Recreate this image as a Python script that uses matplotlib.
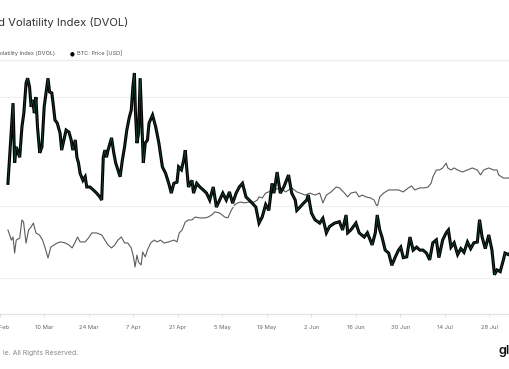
import numpy as np
import pandas as pd
import matplotlib
matplotlib.use("Agg")
import matplotlib.pyplot as plt
import matplotlib.dates as mdates
from matplotlib.ticker import NullLocator, NullFormatter

plt.rcParams['font.family'] = ['Inter', 'DejaVu Sans']

# days since 2025-02-24 and DVOL readings (thick candle line)
dvol_day = [2.5, 3.1, 4.1, 4.6, 5.1, 6.2, 6.9, 7.5, 8.2, 8.7, 9.3, 9.8, 10.3, 10.8, 11.3,
            11.8, 12.5, 13.2, 13.9, 14.6, 15.1, 15.6, 16.3, 16.7, 17.3, 18.0, 18.9, 19.4,
            20.1, 20.8, 21.7, 22.4, 22.9, 23.7, 24.2, 24.7, 25.2, 26.1, 26.8, 27.3, 28.3,
            29.4, 30.4, 31.4, 32.0, 32.5, 33.0, 33.5, 34.0, 35.1, 35.8, 36.4, 37.1, 37.8,
            38.5, 39.2, 39.9, 40.7, 41.3, 41.8, 42.3, 42.6, 43.1, 43.6, 44.1, 44.6, 45.1,
            45.7, 46.4, 46.9, 48.0, 49.0, 50.0, 51.1, 52.1, 53.1, 53.9, 54.7, 55.7, 56.2,
            57.1, 57.8, 58.3, 58.8, 59.3, 60.4, 60.9, 61.9, 62.9, 64.0, 65.0, 66.0, 67.1,
            68.1, 69.1, 70.1, 71.2, 72.2, 73.2, 74.3, 75.3, 76.3, 77.4, 78.4, 79.4, 80.5,
            81.5, 82.5, 83.6, 84.6, 85.6, 86.2, 87.2, 88.2, 89.3, 90.8, 91.8, 92.9, 93.4,
            94.4, 95.5, 96.5, 97.0, 98.0, 99.1, 100.6, 101.6, 102.7, 103.7, 105.3, 106.8,
            107.8, 108.9, 109.4, 110.4, 112.0, 113.0, 114.6, 115.6, 117.1, 118.1, 118.7,
            119.5, 120.2, 121.2, 122.3, 123.3, 124.3, 125.4, 126.1, 126.9, 128.0, 129.0,
            130.0, 131.1, 132.1, 133.1, 134.2, 135.2, 136.2, 137.3, 138.1, 139.3, 140.4,
            141.1, 141.9, 142.9, 144.0, 145.0, 146.0, 147.1, 148.1, 149.1, 150.2, 150.9,
            151.7, 152.7, 153.8, 154.8, 155.6, 156.4, 157.4, 158.4, 158.9, 160.0, 160.5]
dvol = [53.6, 58.9, 68.7, 57.1, 60.0, 58.1, 63.8, 66.6, 73.1, 74.2, 72.2, 67.9, 69.4, 66.6, 70.0,
        63.8, 58.9, 60.0, 67.9, 71.5, 74.2, 71.1, 70.9, 68.7, 65.2, 64.6, 62.6, 59.4,
        61.3, 63.2, 62.8, 61.3, 59.4, 61.3, 58.1, 57.1, 55.3, 54.1, 54.7, 53.0, 53.0,
        52.5, 52.0, 51.4, 50.9, 58.1, 59.4, 58.1, 59.4, 61.7, 58.9, 57.1, 55.9, 54.7,
        57.6, 60.0, 63.2, 65.8, 67.2, 72.2, 75.4, 67.2, 60.7, 62.6, 74.2, 65.2, 57.1,
        60.7, 61.3, 64.6, 66.2, 63.8, 60.7, 56.4, 55.3, 53.6, 52.0, 53.6, 53.8, 56.4,
        55.9, 57.6, 59.4, 55.9, 53.0, 54.1, 52.0, 53.6, 53.0, 52.5, 52.0, 50.9, 53.0,
        49.8, 50.9, 52.0, 50.9, 52.2, 50.4, 52.0, 53.0, 53.6, 51.4, 50.9, 50.4, 49.8,
        47.4, 48.3, 50.2, 49.3, 53.6, 52.0, 55.5, 52.0, 53.0, 55.0, 52.0, 50.9, 49.3,
        49.8, 50.4, 50.9, 51.7, 48.9, 47.9, 47.4, 48.1, 46.0, 46.9, 47.4, 47.6,
        46.4, 48.6, 46.0, 46.4, 47.4, 46.0, 45.4, 46.0, 44.3, 46.0, 48.6,
        46.4, 45.4, 43.6, 43.2, 41.6, 42.6, 43.6, 44.0, 42.6, 42.7, 45.4,
        43.6, 44.0, 43.6, 43.6, 43.2, 42.3, 44.6, 45.0, 42.6, 45.0, 46.0,
        46.4, 44.0, 44.6, 43.0, 43.8, 43.3, 44.7, 43.8, 44.6, 44.7, 47.9,
        45.4, 43.8, 45.7, 43.6, 40.4, 41.0, 40.8, 42.3, 43.2, 43.0, 43.2]

# days since 2025-02-24 and BTC price in thousand USD (thin line)
price_day = [2.5, 3.6, 4.1, 4.6, 5.1, 6.2, 6.9, 7.4, 8.2, 9.0, 9.8, 10.5, 11.3, 12.4, 13.4,
             14.4, 15.1, 16.0, 17.0, 18.0, 19.1, 20.6, 21.7, 22.7, 23.7, 24.4, 25.2, 26.8,
             27.8, 28.9, 30.4, 32.0, 33.0, 34.0, 35.1, 36.1, 37.1, 38.2, 39.2, 40.2, 41.3,
             42.0, 42.5, 43.1, 43.6, 44.4, 44.9, 45.7, 46.4, 47.4, 48.5, 49.5, 50.5, 51.6,
             53.1, 54.7, 55.7, 56.4, 57.3, 58.3, 59.3, 60.4, 61.4, 62.9, 64.5, 65.5, 66.6,
             67.6, 69.1, 70.7, 71.7, 72.8, 73.8, 74.8, 75.8, 76.9, 78.4, 80.0, 81.0, 81.5,
             82.5, 83.6, 86.2, 88.2, 89.9, 91.8, 93.4, 94.4, 96.0, 97.5, 99.1, 100.6, 101.6,
             102.7, 104.2, 105.8, 106.8, 108.4, 109.4, 110.4, 112.0, 113.0, 114.0, 115.1,
             116.6, 117.7, 118.7, 119.5, 120.7, 122.3, 123.8, 125.4, 126.9, 128.5, 129.5,
             130.5, 132.1, 133.6, 134.7, 135.7, 136.2, 137.3, 138.3, 139.3, 140.4, 140.9,
             141.9, 142.9, 144.0, 145.5, 147.1, 148.6, 150.2, 151.2, 152.2, 153.8, 155.3,
             156.4, 156.9, 158.4, 160.0, 160.5]
btc_price_k = [92.5, 88.0, 89.4, 82.2, 88.0, 88.9, 97.0, 96.1, 86.7, 92.5, 93.9, 95.6, 91.2, 90.3, 88.0,
               83.6, 80.0, 84.9, 85.8, 86.7, 87.2, 86.7, 85.8, 84.5, 87.2, 89.4, 87.2, 87.2,
               88.9, 91.2, 91.2, 90.3, 88.0, 85.8, 84.5, 85.8, 88.0, 89.4, 86.7, 86.7, 84.5,
               80.5, 76.0, 81.3, 78.2, 76.9, 82.7, 80.5, 83.6, 86.7, 88.0, 87.2, 88.0, 86.7,
               87.2, 88.0, 87.2, 91.2, 92.5, 96.1, 97.0, 97.0, 98.3, 97.9, 97.9, 98.3, 99.2,
               100.6, 100.1, 98.3, 97.9, 101.4, 103.7, 104.6, 105.0, 104.6, 105.0, 105.0, 105.9, 107.3,
               106.8, 109.0, 110.4, 111.3, 109.5, 111.3, 109.5, 109.0, 108.1, 109.0, 108.1, 109.0, 104.6,
               108.1, 109.5, 111.7, 111.3, 109.0, 107.3, 109.0, 109.5, 107.3, 108.1, 107.3,
               106.8, 105.9, 102.8, 107.3, 109.0, 110.4, 110.4, 110.4, 109.5, 111.3, 112.2,
               110.4, 111.3, 111.3, 111.7, 113.5, 116.2, 119.3, 119.3, 120.2, 122.4, 120.2,
               119.3, 120.2, 119.3, 118.4, 119.3, 120.2, 119.3, 117.1, 119.3, 120.2, 119.3,
               119.3, 117.1, 115.7, 115.7, 116.2]

tick_dates = pd.date_range("2025-02-24", "2025-07-28", freq="14D")
grid_levels = [40, 50, 70]

start = pd.Timestamp("2025-02-24")
dvol_t = start + pd.to_timedelta(dvol_day, unit="D")
price_t = start + pd.to_timedelta(price_day, unit="D")

fig = plt.figure(figsize=(5.1, 3.69), dpi=100)
ax = fig.add_axes([0.0, 0.149, 1.0, 0.6884])
ax2 = ax.twinx()
ax.set_zorder(ax2.get_zorder() + 1)
ax.patch.set_visible(False)

# price (thin)
ax2.plot(price_t, btc_price_k, color="#5c5c5c", lw=0.8)
ax2.set_ylim(55.0, 168.4)

# DVOL (thick candles)
ax.plot(dvol_t, dvol, color="black", lw=2.2, solid_joinstyle="miter")
ax.plot(dvol_t, dvol, color="#1d5a47", lw=0.4)
ax.set_yscale("log")
ax.set_ylim(35.78, 78.5)
ax.set_yticks(grid_levels)
ax.yaxis.set_minor_locator(NullLocator())
ax.yaxis.set_minor_formatter(NullFormatter())
ax.grid(axis="y", color="#efefef", lw=0.8)
ax.set_axisbelow(True)

ax.set_xlim(start + pd.Timedelta(days=2.54), start + pd.Timedelta(days=160.48))
ax.set_xticks(tick_dates)
ax.xaxis.set_major_formatter(mdates.DateFormatter("%-d %b"))

for a in (ax, ax2):
    a.tick_params(axis="y", left=False, right=False, labelleft=False, labelright=False)
    for s in ("left", "right"):
        a.spines[s].set_visible(False)
    a.spines["top"].set_color("#ececec")
    a.spines["top"].set_linewidth(0.8)
    a.spines["bottom"].set_color("#e2e2e2")
    a.spines["bottom"].set_linewidth(0.8)
ax.tick_params(axis="x", length=2, width=0.6, color="#dddddd", labelsize=4.2,
               labelcolor="#666666", pad=6)

fig.text(128 / 510, 1 - 23 / 369, "Bitcoin: Deribit Implied Volatility Index (DVOL)",
         ha="right", va="center", fontsize=8.1, color="#333333")
fig.text(55 / 510, 1 - 54 / 369, "BTC: Implied Volatility Index (DVOL)",
         ha="right", va="center", fontsize=4.0, color="#555555")
fig.text(72.5 / 510, 1 - 54 / 369, "\u25CF", ha="center", va="center",
         fontsize=4.0, color="black", family=["DejaVu Sans"])
fig.text(77 / 510, 1 - 54 / 369, "BTC: Price [USD]",
         ha="left", va="center", fontsize=4.0, color="#555555")
fig.text(78 / 510, 1 - 352.5 / 369, "le. All Rights Reserved.",
         ha="right", va="center", fontsize=5.0, color="#8a8a8a")
fig.text(499 / 510, 1 - 351 / 369, "glassnode", ha="left", va="center",
         fontsize=9, color="#111111", weight="semibold")

fig.savefig("out.png", dpi=100, facecolor="white")
